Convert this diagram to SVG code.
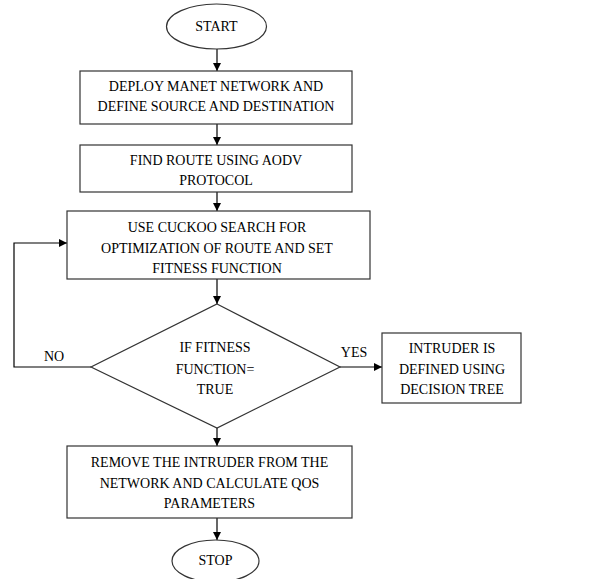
<svg xmlns="http://www.w3.org/2000/svg" width="592" height="579" viewBox="0 0 592 579">
<defs>
<marker id="ah" markerWidth="10" markerHeight="10" refX="9" refY="5" orient="auto" markerUnits="userSpaceOnUse">
<path d="M1,1 L9,5 L1,9 Z" fill="#000"/>
</marker>
<style>
.s{fill:#fff;stroke:#333;stroke-width:1.2}
.t{font-family:"Liberation Serif","Times New Roman",serif;font-size:14px;fill:#000;text-anchor:middle}
.c{fill:none;stroke:#000;stroke-width:1.2}
</style>
</defs>
<rect width="592" height="579" fill="#fff"/>
<g id="connectors">
<line class="c" x1="217" y1="49" x2="217" y2="71" marker-end="url(#ah)"/>
<line class="c" x1="217" y1="124" x2="217" y2="145" marker-end="url(#ah)"/>
<line class="c" x1="217" y1="192" x2="217" y2="211" marker-end="url(#ah)"/>
<line class="c" x1="217" y1="279" x2="217" y2="304" marker-end="url(#ah)"/>
<polyline class="c" points="91,367 14,367 14,243 67,243" marker-end="url(#ah)"/>
<line class="c" x1="340" y1="367" x2="382" y2="367" marker-end="url(#ah)"/>
<line class="c" x1="217" y1="428" x2="217" y2="446" marker-end="url(#ah)"/>
<line class="c" x1="217" y1="518" x2="217" y2="540" marker-end="url(#ah)"/>
<text class="t" x="54" y="361">NO</text>
<text class="t" x="354" y="357">YES</text>
</g>
<g id="start">
<ellipse class="s" cx="216.5" cy="26.5" rx="50" ry="22.5"/>
<text class="t" x="216.5" y="31">START</text>
</g>
<g id="deploy">
<rect class="s" x="80" y="71" width="272" height="53"/>
<text class="t" x="216" y="91">DEPLOY MANET NETWORK AND</text>
<text class="t" x="216" y="111">DEFINE SOURCE AND DESTINATION</text>
</g>
<g id="route">
<rect class="s" x="80" y="145" width="272" height="47"/>
<text class="t" x="216" y="165">FIND ROUTE USING AODV</text>
<text class="t" x="216" y="185">PROTOCOL</text>
</g>
<g id="cuckoo">
<rect class="s" x="67" y="211" width="303" height="68"/>
<text class="t" x="217" y="232">USE CUCKOO SEARCH FOR</text>
<text class="t" x="217" y="253">OPTIMIZATION OF ROUTE AND SET</text>
<text class="t" x="217" y="273">FITNESS FUNCTION</text>
</g>
<g id="decision">
<polygon class="s" points="217,304 340,367 217,428 91,367"/>
<text class="t" x="215" y="352">IF FITNESS</text>
<text class="t" x="215" y="374">FUNCTION=</text>
<text class="t" x="215" y="394">TRUE</text>
</g>
<g id="intruder">
<rect class="s" x="382" y="333" width="139" height="70"/>
<text class="t" x="452" y="353">INTRUDER IS</text>
<text class="t" x="452" y="374">DEFINED USING</text>
<text class="t" x="452" y="394">DECISION TREE</text>
</g>
<g id="remove">
<rect class="s" x="67" y="446" width="285" height="72"/>
<text class="t" x="209.5" y="467">REMOVE THE INTRUDER FROM THE</text>
<text class="t" x="209.5" y="488">NETWORK AND CALCULATE QOS</text>
<text class="t" x="209.5" y="508">PARAMETERS</text>
</g>
<g id="stop">
<ellipse class="s" cx="215.5" cy="561" rx="43.5" ry="21"/>
<text class="t" x="215.5" y="565">STOP</text>
</g>
</svg>
